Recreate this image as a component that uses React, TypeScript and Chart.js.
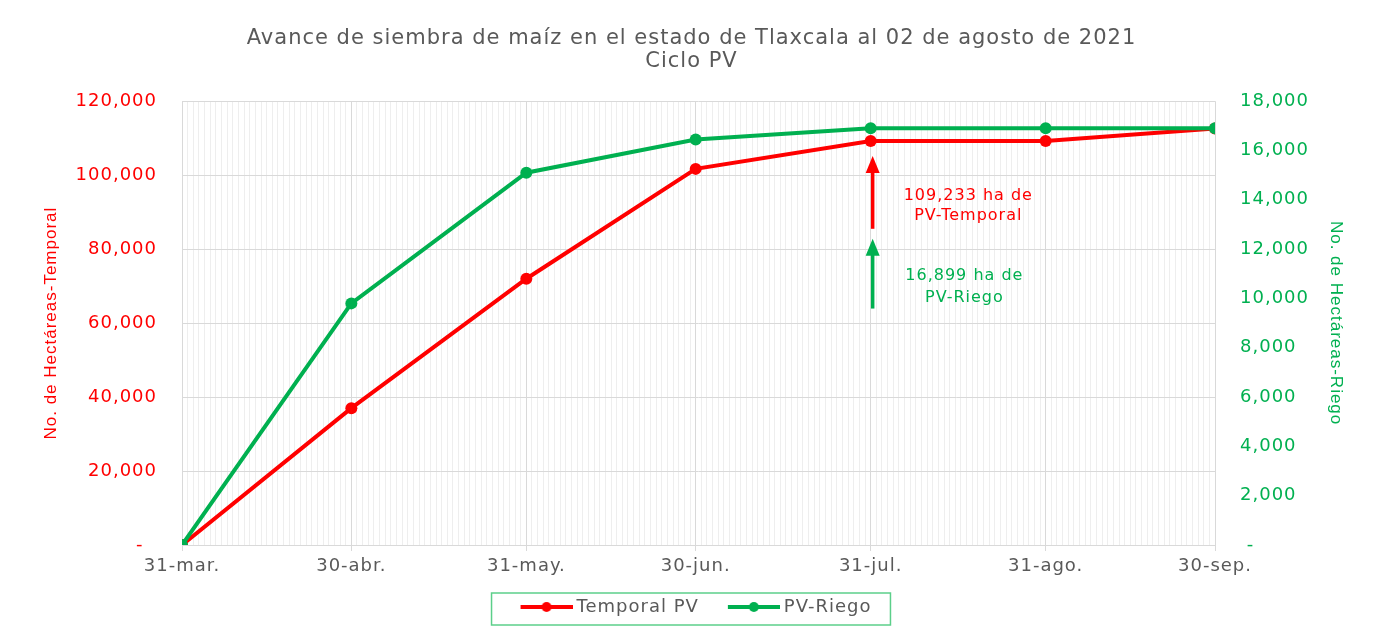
import React, { useEffect, useRef } from 'react';
import { Chart, registerables } from 'chart.js';

Chart.register(...registerables);

// ---- Data ----
const dateLabels = ['31-mar.', '30-abr.', '31-may.', '30-jun.', '31-jul.', '31-ago.', '30-sep.'];
const dayOffsets = [0, 30, 61, 91, 122, 153, 183]; // days since 31-mar
const temporalPV = [0, 37000, 72000, 101700, 109233, 109233, 112600];
const riegoPV = [0, 9800, 15100, 16450, 16899, 16899, 16899];

const leftMax = 120000;
const leftStep = 20000;
const rightMax = 18000;
const rightStep = 2000;

const titleLines = ['Avance de siembra de maíz en el estado de Tlaxcala al 02 de agosto de 2021', 'Ciclo PV'];
const seriesNames = ['Temporal PV', 'PV-Riego'];
const leftAxisTitle = 'No. de Hectáreas-Temporal';
const rightAxisTitle = 'No. de Hectáreas-Riego';

// annotation notes (anchored in data units)
const noteDay = 122;
const temporalNote = ['109,233 ha de', 'PV-Temporal'];
const temporalNoteDay = 139.3;
const temporalNoteY = [94400, 88900];
const temporalArrow = [85500, 105200];
const riegoNote = ['16,899 ha de', 'PV-Riego'];
const riegoNoteDay = 138.6;
const riegoNoteY = [10920, 10040];
const riegoArrow = [9590, 12420];

const RED = '#ff0000';
const GREEN = '#00b050';
const GRAY = '#595959';
const FONT = '"DejaVu Sans", sans-serif';
const AXIS_TITLE_FONT = '"Liberation Sans", Arial, sans-serif';

const fmt = (v: number) => v.toLocaleString('en-US');

function makeLegendImage(color: string) {
  const c = document.createElement('canvas');
  c.width = 76;
  c.height = 12;
  const ctx = c.getContext('2d')!;
  ctx.strokeStyle = color;
  ctx.lineWidth = 4;
  ctx.beginPath();
  ctx.moveTo(24, 6);
  ctx.lineTo(76, 6);
  ctx.stroke();
  ctx.fillStyle = color;
  ctx.beginPath();
  ctx.arc(50, 6, 5, 0, Math.PI * 2);
  ctx.fill();
  return c;
}

const spacingPlugin = {
  id: 'spacing',
  beforeLayout(chart: any) {
    chart.ctx.letterSpacing = '1px';
  },
  afterLayout(chart: any) {
    const lg = chart.legend;
    if (lg) {
      lg.left -= 5;
      lg.right -= 5;
      (lg.legendHitBoxes || []).forEach((h: any) => (h.left -= 5));
    }
  },
  beforeDraw(chart: any) {
    chart.ctx.letterSpacing = '1px';
  },
};

const notesPlugin = {
  id: 'notes',
  afterDatasetsDraw(chart: any) {
    const { ctx, scales } = chart;
    const x = scales.x, y = scales.y, y1 = scales.y1;
    const drawArrow = (px: number, yBottom: number, yTip: number, color: string) => {
      ctx.save();
      ctx.strokeStyle = color;
      ctx.fillStyle = color;
      ctx.lineWidth = 3.5;
      ctx.beginPath();
      ctx.moveTo(px, yBottom);
      ctx.lineTo(px, yTip + 14);
      ctx.stroke();
      ctx.beginPath();
      ctx.moveTo(px, yTip);
      ctx.lineTo(px - 7, yTip + 17);
      ctx.lineTo(px + 7, yTip + 17);
      ctx.closePath();
      ctx.fill();
      ctx.restore();
    };
    const ax = x.getPixelForValue(noteDay) + 2;
    drawArrow(ax, y.getPixelForValue(temporalArrow[0]), y.getPixelForValue(temporalArrow[1]), RED);
    drawArrow(ax, y1.getPixelForValue(riegoArrow[0]), y1.getPixelForValue(riegoArrow[1]), GREEN);
    ctx.save();
    ctx.font = `16px ${FONT}`;
    ctx.textAlign = 'center';
    ctx.textBaseline = 'middle';
    ctx.fillStyle = RED;
    temporalNote.forEach((t, i) => ctx.fillText(t, x.getPixelForValue(temporalNoteDay), y.getPixelForValue(temporalNoteY[i])));
    ctx.fillStyle = GREEN;
    riegoNote.forEach((t, i) => ctx.fillText(t, x.getPixelForValue(riegoNoteDay), y1.getPixelForValue(riegoNoteY[i])));
    ctx.restore();
  },
};

const legendBoxPlugin = {
  id: 'legendBox',
  afterDraw(chart: any) {
    const lg = chart.legend;
    if (!lg || !lg.legendHitBoxes || !lg.legendHitBoxes.length) return;
    const hb = lg.legendHitBoxes;
    const left = Math.min(...hb.map((h: any) => h.left)) - 10;
    const right = Math.max(...hb.map((h: any) => h.left + h.width)) + 19;
    const cy = hb[0].top + hb[0].height / 2;
    const { ctx } = chart;
    ctx.save();
    ctx.strokeStyle = '#5ccf8a';
    ctx.lineWidth = 1.5;
    ctx.strokeRect(left, cy - 14, right - left, 32);
    ctx.restore();
  },
};

export default function App() {
  const ref = useRef<HTMLCanvasElement>(null);
  useEffect(() => {
    document.documentElement.style.overflow = 'hidden';
    if (!ref.current) return;
    const legendImgs = [makeLegendImage(RED), makeLegendImage(GREEN)];
    const labelMap: Record<number, string> = {};
    dayOffsets.forEach((d, i) => (labelMap[d] = dateLabels[i]));
    const isMajor = (v: number) => labelMap[v] !== undefined;

    const chart = new Chart(ref.current, {
      type: 'line',
      data: {
        datasets: [
          {
            label: seriesNames[0],
            data: dayOffsets.map((d, i) => ({ x: d, y: temporalPV[i] })),
            borderColor: RED,
            backgroundColor: RED,
            borderWidth: 4,
            pointRadius: 6,
            pointBorderWidth: 0,
            pointBackgroundColor: RED,
            yAxisID: 'y',
            order: 2,
          },
          {
            label: seriesNames[1],
            data: dayOffsets.map((d, i) => ({ x: d, y: riegoPV[i] })),
            borderColor: GREEN,
            backgroundColor: GREEN,
            borderWidth: 4,
            pointRadius: 6,
            pointBorderWidth: 0,
            pointBackgroundColor: GREEN,
            yAxisID: 'y1',
            order: 1,
          },
        ],
      },
      options: {
        responsive: true,
        maintainAspectRatio: false,
        animation: false,
        layout: { padding: { left: 0, right: 0, top: 0, bottom: 5 } },
        plugins: {
          title: {
            display: true,
            text: titleLines,
            color: GRAY,
            font: { family: FONT, size: 21, weight: 'normal', lineHeight: 1.1 },
            padding: { top: 20, bottom: 28 },
          },
          legend: {
            position: 'bottom',
            labels: {
              usePointStyle: true,
              pointStyleWidth: 66,
              padding: 10,
              color: GRAY,
              font: { family: FONT, size: 18 },
              sort: (a: any, b: any) => a.datasetIndex - b.datasetIndex,
              generateLabels: (ch: any) =>
                ch.data.datasets.map((ds: any, i: number) => ({
                  text: ds.label,
                  pointStyle: legendImgs[i],
                  datasetIndex: i,
                  fillStyle: ds.borderColor,
                  strokeStyle: ds.borderColor,
                  lineWidth: 0,
                  hidden: false,
                  fontColor: GRAY,
                })),
            },
          },
          tooltip: { enabled: false },
        },
        scales: {
          x: {
            type: 'linear',
            min: dayOffsets[0],
            max: dayOffsets[dayOffsets.length - 1],
            afterBuildTicks: (s: any) => {
              const ticks = [];
              for (let d = dayOffsets[0]; d <= dayOffsets[dayOffsets.length - 1]; d++) ticks.push({ value: d });
              s.ticks = ticks;
            },
            afterFit: (s: any) => {
              s.height = 43;
            },
            ticks: {
              autoSkip: false,
              maxRotation: 0,
              minRotation: 0,
              color: GRAY,
              font: { family: FONT, size: 18 },
              padding: 5,
              callback: (v: any) => labelMap[v] ?? '',
            },
            grid: {
              color: (c: any) => (isMajor(c.tick?.value) ? '#d9d9d9' : '#eeeeee'),
              tickColor: (c: any) => (isMajor(c.tick?.value) ? '#d9d9d9' : 'rgba(0,0,0,0)'),
              tickLength: 6,
              lineWidth: 1,
            },
            border: { color: '#d9d9d9' },
          },
          y: {
            position: 'left',
            min: 0,
            max: leftMax,
            afterFit: (s: any) => {
              s.width = 174;
            },
            ticks: {
              stepSize: leftStep,
              color: RED,
              font: { family: FONT, size: 18 },
              padding: 25,
              callback: (v: any) => (v === 0 ? '-  ' : fmt(v)),
            },
            grid: { color: '#d9d9d9', drawTicks: false },
            border: { display: false },
            title: {
              display: true,
              text: leftAxisTitle,
              color: RED,
              font: { family: AXIS_TITLE_FONT, size: 17 },
              padding: { top: 33, bottom: 0 },
            },
          },
          y1: {
            position: 'right',
            min: 0,
            max: rightMax,
            afterFit: (s: any) => {
              s.width = 160;
            },
            ticks: {
              stepSize: rightStep,
              color: GREEN,
              font: { family: FONT, size: 18 },
              padding: 25,
              callback: (v: any) => (v === 0 ? ' -' : fmt(v)),
            },
            grid: { display: false, drawTicks: false },
            border: { display: false },
            title: {
              display: true,
              text: rightAxisTitle,
              color: GREEN,
              font: { family: AXIS_TITLE_FONT, size: 17 },
              padding: { top: 29, bottom: 0 },
            },
          },
        },
      },
      plugins: [spacingPlugin, notesPlugin, legendBoxPlugin],
    } as any);
    return () => chart.destroy();
  }, []);

  return (
    <div
      style={{
        width: 1371,
        height: 640,
        border: '2px solid #d9d9d9',
        boxSizing: 'border-box',
        margin: '-3px 0 0 -2px',
        background: '#fff',
      }}
    >
      <div style={{ position: 'relative', width: 1367, height: 624 }}>
        <canvas ref={ref} />
      </div>
    </div>
  );
}
